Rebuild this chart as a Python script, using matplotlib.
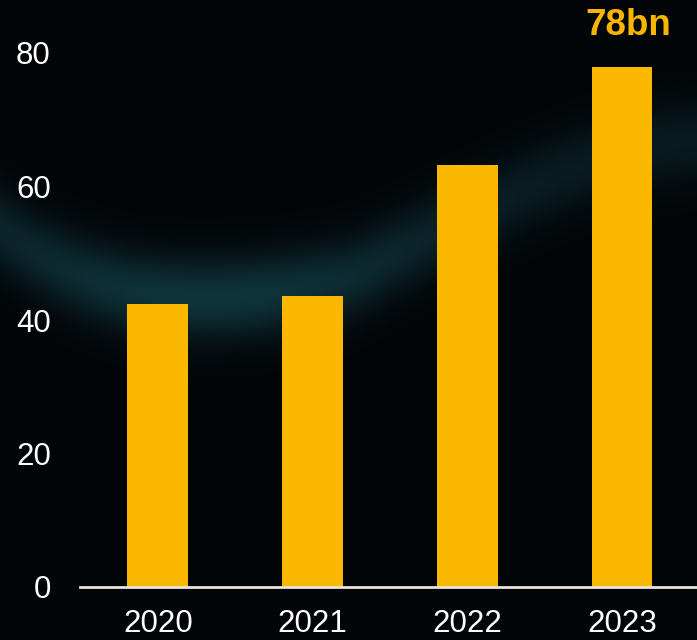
import numpy as np
import matplotlib.pyplot as plt

# chart data
years = ["2020", "2021", "2022", "2023"]
values = [42.4, 43.6, 63.2, 77.9]
y_ticks = [0, 20, 40, 60, 80]
last_label = "78bn"

bar_color = "#FBB800"
bg_color = "#020508"

plt.rcParams["font.family"] = ["Liberation Sans", "DejaVu Sans"]

fig = plt.figure(figsize=(6.97, 6.40), dpi=100, facecolor=bg_color)

# dim teal wave in the background (decoration only)
bg = fig.add_axes([0, 0, 1, 1], zorder=0)
gx, gy = np.meshgrid(np.linspace(0, 697, 350), np.linspace(0, 640, 320))
t = gx / 697.0
curve = 230 + 520 * t * (1 - t) * (1 - 1.25 * t) - 180 * np.clip(t - 0.5, 0, None)
dist = gy - curve
glow = np.exp(-(dist / 40.0) ** 2) * (0.45 + 0.55 * np.exp(-((t - 0.3) / 0.3) ** 2))
img = np.zeros(gx.shape + (3,))
base = np.array([2, 5, 8]) / 255.0
teal = np.array([16, 52, 60]) / 255.0
img[:] = base
img += glow[..., None] * (teal - base)
bg.imshow(img, extent=[0, 697, 640, 0], aspect="auto")
bg.set_xlim(0, 697)
bg.set_ylim(640, 0)
bg.axis("off")

ax = fig.add_axes([80 / 697, 53 / 640, 617 / 697, 534 / 640], zorder=1)
ax.patch.set_alpha(0)

x = np.arange(len(years))
ax.bar(x, values, width=0.394, color=bar_color)

ax.set_xlim(-0.504, 3.485)
ax.set_ylim(0, 80)
ax.set_xticks(x)
ax.set_xticklabels(years)
ax.set_yticks(y_ticks)
ax.tick_params(axis="both", length=0, colors="white", labelsize=22.5)
ax.tick_params(axis="y", pad=21)
ax.tick_params(axis="x", pad=16)

for side in ["top", "right", "left"]:
    ax.spines[side].set_visible(False)
ax.spines["bottom"].set_color("#e8e4da")
ax.spines["bottom"].set_linewidth(2)

# value label over the last bar
ax.text(x[-1] + 0.04, values[-1] + 3.6, last_label, ha="center", va="bottom",
        color="#F7B500", fontsize=26.5, fontweight="bold", clip_on=False)

fig.savefig("out.png", dpi=100, facecolor=bg_color)
